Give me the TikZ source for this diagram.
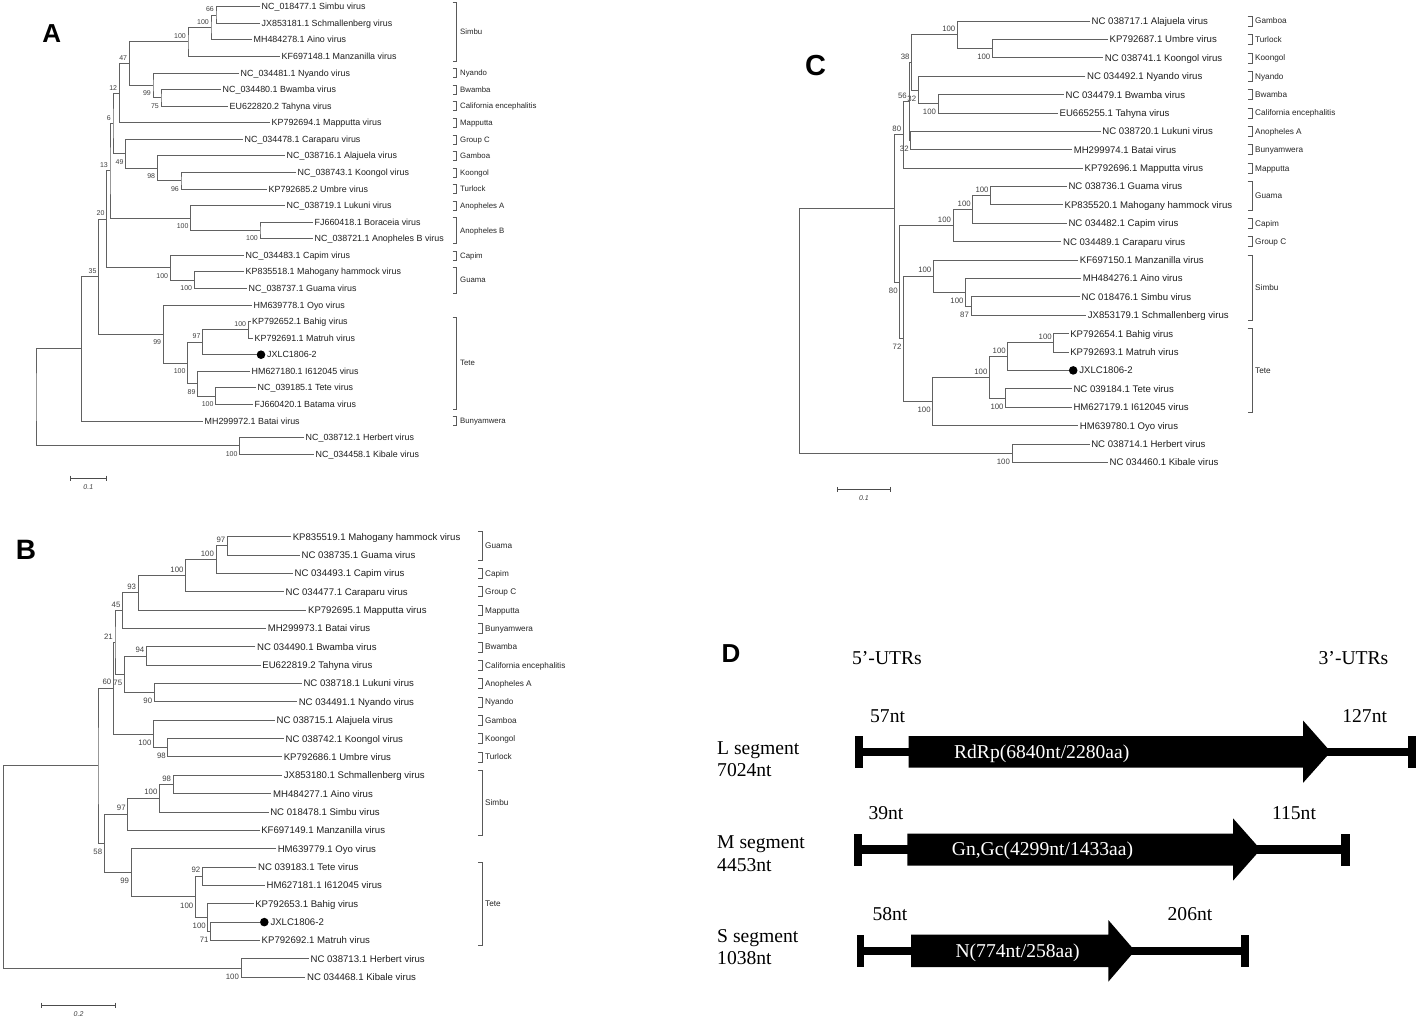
\documentclass[tikz,border=0pt]{standalone}
\usepackage{fontspec}
\setmainfont{Liberation Sans}
\newfontfamily\timesf{Liberation Serif}
\tikzset{
 brn/.style={draw=black!62, line width=0.85pt},
 lff/.style={font=\fontsize{8.9}{10}\selectfont, yshift=-3.15pt},
 lflab/.style={lff, text=black!88, anchor=base west, inner sep=1.5pt},
 bsf/.style={font=\fontsize{7}{8}\selectfont},
 bsa/.style={bsf, text=black!75, inner sep=0.5pt, anchor=south east, xshift=-1.5pt, yshift=2.5pt},
 bsb/.style={bsf, text=black!75, inner sep=0.5pt, anchor=north east, xshift=-1.5pt, yshift=-5pt},
 grf/.style={font=\fontsize{7.8}{9}\selectfont, yshift=-2.8pt},
 grplab/.style={grf, text=black!85, anchor=base west, inner sep=0pt},
 brk/.style={draw=black!65, line width=0.6pt},
 jxdot/.style={circle, fill=black, inner sep=0pt, minimum size=8.6pt},
 panel/.style={font=\bfseries\fontsize{26}{28}\selectfont, inner sep=0pt},
 sbar/.style={draw=black!70, line width=0.7pt},
 sblab/.style={font=\itshape\fontsize{7}{8}\selectfont, text=black!75, inner sep=0pt},
 dtext/.style={font=\timesf\fontsize{19.6}{22}\selectfont, inner sep=0pt},
 seg/.style={fill=black},
}
\newcommand\lf[4]{\coordinate (#1) at (#2,#3); \node[lflab] (#1t) at (#1) {#4};}
\newcommand\lfdot[4]{\node[jxdot] (#1d) at (#2,#3) {}; \coordinate (#1) at (#1d.west); \node[lflab] (#1t) at (#1d.east) {#4};}
\newcommand\inn[7]{\coordinate (#1) at (#2,#3); \draw[brn] (#4) -| (#1) |- (#5); \node[#6] (#1l) at (#1) {#7};}
\newcommand\inr[5]{\coordinate (#1) at (#2,#3); \draw[brn] (#4) -| (#1) |- (#5);}
\newcommand\grp[4]{\draw[brk] (\bxt,{#2-\bh}) -- (\bxv,{#2-\bh}) -- (\bxv,{#3+\bh}) -- (\bxt,{#3+\bh}); \node[grplab] (#1) at (\bxl,{(#2+#3)/2}) {#4};}
\newcommand\sbr[5]{\coordinate (#1a) at (#2,#4); \coordinate (#1b) at (#3,#4); \draw[sbar] (#1a) -- (#1b); \draw[sbar] ([yshift=2.5pt]#1a) -- ([yshift=-2.5pt]#1a); \draw[sbar] ([yshift=2.5pt]#1b) -- ([yshift=-2.5pt]#1b); \node[sblab] (#1l) at ({(#2+#3)/2},{#4+9}) {#5};}
\begin{document}
\begin{tikzpicture}[x=1pt,y=-1pt]
\fill[white] (0,0) rectangle (1418,1020);
\useasboundingbox (0,0) rectangle (1418,1020);

% ================= Tree A =================
\begin{scope}
\def\bxt{452.7}\def\bxv{456.7}\def\bxl{460}\def\bh{4.5}
\node[panel] (pA) at (51.7,34) {A};
\lf{a0}{260}{6.7}{NC\_018477.1 Simbu virus}
\lf{a1}{260}{23.3}{JX853181.1 Schmallenberg virus}
\lf{a2}{252}{39.8}{MH484278.1 Aino virus}
\lf{a3}{280}{56.4}{KF697148.1 Manzanilla virus}
\lf{a4}{239}{73.0}{NC\_034481.1 Nyando virus}
\lf{a5}{221}{89.6}{NC\_034480.1 Bwamba virus}
\lf{a6}{228}{106.1}{EU622820.2 Tahyna virus}
\lf{a7}{270}{122.7}{KP792694.1 Mapputta virus}
\lf{a8}{243}{139.3}{NC\_034478.1 Caraparu virus}
\lf{a9}{285}{155.8}{NC\_038716.1 Alajuela virus}
\lf{a10}{296}{172.4}{NC\_038743.1 Koongol virus}
\lf{a11}{267}{189.0}{KP792685.2 Umbre virus}
\lf{a12}{285}{205.5}{NC\_038719.1 Lukuni virus}
\lf{a13}{313}{222.1}{FJ660418.1 Boraceia virus}
\lf{a14}{313}{238.7}{NC\_038721.1 Anopheles B virus}
\lf{a15}{244}{255.3}{NC\_034483.1 Capim virus}
\lf{a16}{244}{271.8}{KP835518.1 Mahogany hammock virus}
\lf{a17}{247}{288.4}{NC\_038737.1 Guama virus}
\lf{a18}{252}{305.0}{HM639778.1 Oyo virus}
\lf{a19}{250.5}{321.5}{KP792652.1 Bahig virus}
\lf{a20}{253}{338.1}{KP792691.1 Matruh virus}
\lfdot{a21}{261}{354.7}{JXLC1806-2}
\lf{a22}{250}{371.2}{HM627180.1 I612045 virus}
\lf{a23}{256}{387.8}{NC\_039185.1 Tete virus}
\lf{a24}{253}{404.4}{FJ660420.1 Batama virus}
\lf{a25}{203}{421.0}{MH299972.1 Batai virus}
\lf{a26}{304}{437.5}{NC\_038712.1 Herbert virus}
\lf{a27}{314}{454.1}{NC\_034458.1 Kibale virus}
\inn{nA1}{216}{15.0}{a0}{a1}{bsa}{66}
\inn{nA2}{211}{27.4}{nA1}{a2}{bsa}{100}
\inn{nA3}{188}{41.9}{nA2}{a3}{bsa}{100}
\inn{nA4}{161}{97.85}{a5}{a6}{bsb}{75}
\inn{nA5}{153}{85.4}{a4}{nA4}{bsb}{99}
\inn{nA6}{129.3}{63.65}{nA3}{nA5}{bsa}{47}
\inn{nA7}{119.3}{93.2}{nA6}{a7}{bsa}{12}
\inn{nA8}{181}{180.7}{a10}{a11}{bsb}{96}
\inn{nA9}{157.3}{168.25}{a9}{nA8}{bsb}{98}
\inn{nA10}{125.7}{153.8}{a8}{nA9}{bsb}{49}
\inn{nA11}{113}{123.5}{nA7}{nA10}{bsa}{6}
\inn{nA12}{260}{230.4}{a13}{a14}{bsb}{100}
\inn{nA13}{190.7}{217.95}{a12}{nA12}{bsb}{100}
\inn{nA14}{110}{170.7}{nA11}{nA13}{bsa}{13}
\inn{nA15}{194.3}{280.1}{a16}{a17}{bsb}{100}
\inn{nA16}{170.3}{267.7}{a15}{nA15}{bsb}{100}
\inn{nA17}{106.7}{219.2}{nA14}{nA16}{bsa}{20}
\inn{nA18}{248.3}{329.8}{a19}{a20}{bsa}{100}
\inn{nA19}{202.7}{342.25}{nA18}{a21}{bsa}{97}
\inn{nA20}{215.7}{396.1}{a23}{a24}{bsb}{100}
\inn{nA21}{197.7}{383.65}{a22}{nA20}{bsb}{89}
\inn{nA22}{187.7}{362.95}{nA19}{nA21}{bsb}{100}
\inn{nA23}{163.3}{334.0}{a18}{nA22}{bsb}{99}
\inn{nA24}{98.7}{276.6}{nA17}{nA23}{bsa}{35}
\inr{nA25}{81.7}{348.8}{nA24}{a25}
\inn{nA26}{239.7}{445.8}{a26}{a27}{bsb}{100}
\inr{nA0}{36}{397.3}{nA25}{nA26}
\grp{gA1}{6.7}{56.4}{Simbu}
\grp{gA2}{73.0}{73.0}{Nyando}
\grp{gA3}{89.6}{89.6}{Bwamba}
\grp{gA4}{106.1}{106.1}{California encephalitis}
\grp{gA5}{122.7}{122.7}{Mapputta}
\grp{gA6}{139.3}{139.3}{Group C}
\grp{gA7}{155.8}{155.8}{Gamboa}
\grp{gA8}{172.4}{172.4}{Koongol}
\grp{gA9}{189.0}{189.0}{Turlock}
\grp{gA10}{205.5}{205.5}{Anopheles A}
\grp{gA11}{222.1}{238.7}{Anopheles B}
\grp{gA12}{255.3}{255.3}{Capim}
\grp{gA13}{271.8}{288.4}{Guama}
\grp{gA14}{321.5}{404.4}{Tete}
\grp{gA15}{421.0}{421.0}{Bunyamwera}
\sbr{sA}{70.7}{106}{478}{0.1}
\end{scope}

% ================= Tree B =================
\begin{scope}[lff/.style={font=\fontsize{9.6}{11}\selectfont, yshift=-3.4pt},
  bsf/.style={font=\fontsize{7.8}{9}\selectfont},
  grf/.style={font=\fontsize{8.2}{9}\selectfont, yshift=-2.9pt}]
\def\bxt{478}\def\bxv{482}\def\bxl{485}\def\bh{5}
\node[panel, font=\bfseries\fontsize{28}{30}\selectfont] (pB) at (26,550) {B};
\lf{b0}{291.1}{536.7}{KP835519.1 Mahogany hammock virus}
\lf{b1}{300}{555.0}{NC 038735.1 Guama virus}
\lf{b2}{292.9}{573.4}{NC 034493.1 Capim virus}
\lf{b3}{283.9}{591.7}{NC 034477.1 Caraparu virus}
\lf{b4}{306.4}{610.1}{KP792695.1 Mapputta virus}
\lf{b5}{266.1}{628.5}{MH299973.1 Batai virus}
\lf{b6}{255.4}{646.8}{NC 034490.1 Bwamba virus}
\lf{b7}{260.7}{665.2}{EU622819.2 Tahyna virus}
\lf{b8}{301.8}{683.5}{NC 038718.1 Lukuni virus}
\lf{b9}{297.1}{701.9}{NC 034491.1 Nyando virus}
\lf{b10}{275}{720.2}{NC 038715.1 Alajuela virus}
\lf{b11}{283.9}{738.6}{NC 038742.1 Koongol virus}
\lf{b12}{282.1}{756.9}{KP792686.1 Umbre virus}
\lf{b13}{282.1}{775.3}{JX853180.1 Schmallenberg virus}
\lf{b14}{271.4}{793.6}{MH484277.1 Aino virus}
\lf{b15}{268.6}{812.0}{NC 018478.1 Simbu virus}
\lf{b16}{259.6}{830.3}{KF697149.1 Manzanilla virus}
\lf{b17}{276.1}{848.7}{HM639779.1 Oyo virus}
\lf{b18}{256.4}{867.0}{NC 039183.1 Tete virus}
\lf{b19}{265}{885.4}{HM627181.1 I612045 virus}
\lf{b20}{253.6}{903.7}{KP792653.1 Bahig virus}
\lfdot{b21}{264.3}{922.1}{JXLC1806-2}
\lf{b22}{260}{940.4}{KP792692.1 Matruh virus}
\lf{b23}{308.9}{958.8}{NC 038713.1 Herbert virus}
\lf{b24}{305.4}{977.1}{NC 034468.1 Kibale virus}
\inn{nB1}{227.5}{545.85}{b0}{b1}{bsa}{97}
\inn{nB2}{216.1}{559.6}{nB1}{b2}{bsa}{100}
\inn{nB3}{185.7}{575.65}{nB2}{b3}{bsa}{100}
\inn{nB4}{138.2}{592.9}{nB3}{b4}{bsa}{93}
\inn{nB5}{122.6}{610.7}{nB4}{b5}{bsa}{45}
\inn{nB6}{146.4}{656.0}{b6}{b7}{bsa}{94}
\inn{nB7}{154.3}{692.7}{b8}{b9}{bsb}{90}
\inn{nB8}{124.3}{674.35}{nB6}{nB7}{bsb}{75}
\inn{nB9}{115}{642.5}{nB5}{nB8}{bsa}{21}
\inn{nB10}{167.9}{747.75}{b11}{b12}{bsb}{98}
\inn{nB11}{153.6}{733.95}{b10}{nB10}{bsb}{100}
\inn{nB12}{113.4}{688.2}{nB9}{nB11}{bsa}{60}
\inn{nB13}{173.2}{784.45}{b13}{b14}{bsa}{98}
\inn{nB14}{159.6}{798.2}{nB13}{b15}{bsa}{100}
\inn{nB15}{127.8}{814.25}{nB14}{b16}{bsa}{97}
\inn{nB16}{202.5}{876.2}{b18}{b19}{bsa}{92}
\inn{nB17}{210.7}{931.25}{b21}{b22}{bsb}{71}
\inn{nB18}{207.9}{917.5}{b20}{nB17}{bsb}{100}
\inn{nB19}{195.4}{896.85}{nB16}{nB18}{bsb}{100}
\inn{nB20}{131.2}{872.8}{b17}{nB19}{bsb}{99}
\inn{nB21}{104.3}{843.5}{nB15}{nB20}{bsb}{58}
\inr{nB22}{98}{765.85}{nB12}{nB21}
\inn{nB23}{241.1}{967.95}{b23}{b24}{bsb}{100}
\inr{nB0}{3.6}{866.9}{nB22}{nB23}
\grp{gB1}{536.7}{555.0}{Guama}
\grp{gB2}{573.4}{573.4}{Capim}
\grp{gB3}{591.7}{591.7}{Group C}
\grp{gB4}{610.1}{610.1}{Mapputta}
\grp{gB5}{628.5}{628.5}{Bunyamwera}
\grp{gB6}{646.8}{646.8}{Bwamba}
\grp{gB7}{665.2}{665.2}{California encephalitis}
\grp{gB8}{683.5}{683.5}{Anopheles A}
\grp{gB9}{701.9}{701.9}{Nyando}
\grp{gB10}{720.2}{720.2}{Gamboa}
\grp{gB11}{738.6}{738.6}{Koongol}
\grp{gB12}{756.9}{756.9}{Turlock}
\grp{gB13}{775.3}{830.3}{Simbu}
\grp{gB14}{867.0}{940.4}{Tete}
\sbr{sB}{41.8}{115.4}{1005}{0.2}
\end{scope}

% ================= Tree C =================
\begin{scope}[lff/.style={font=\fontsize{9.6}{11}\selectfont, yshift=-3.4pt},
  bsf/.style={font=\fontsize{7.8}{9}\selectfont},
  grf/.style={font=\fontsize{8.2}{9}\selectfont, yshift=-2.9pt}]
\def\bxt{1247.5}\def\bxv{1252}\def\bxl{1255}\def\bh{5}
\node[panel, font=\bfseries\fontsize{29}{31}\selectfont] (pC) at (815.5,66) {C};
\lf{c0}{1090}{21.0}{NC 038717.1 Alajuela virus}
\lf{c1}{1107.9}{39.4}{KP792687.1 Umbre virus}
\lf{c2}{1103.2}{57.8}{NC 038741.1 Koongol virus}
\lf{c3}{1085.4}{76.2}{NC 034492.1 Nyando virus}
\lf{c4}{1063.9}{94.6}{NC 034479.1 Bwamba virus}
\lf{c5}{1057.9}{113.0}{EU665255.1 Tahyna virus}
\lf{c6}{1100.7}{131.3}{NC 038720.1 Lukuni virus}
\lf{c7}{1072.1}{149.7}{MH299974.1 Batai virus}
\lf{c8}{1082.9}{168.1}{KP792696.1 Mapputta virus}
\lf{c9}{1066.8}{186.5}{NC 038736.1 Guama virus}
\lf{c10}{1062.9}{204.9}{KP835520.1 Mahogany hammock virus}
\lf{c11}{1066.8}{223.3}{NC 034482.1 Capim virus}
\lf{c12}{1061.4}{241.7}{NC 034489.1 Caraparu virus}
\lf{c13}{1078.2}{260.1}{KF697150.1 Manzanilla virus}
\lf{c14}{1081.1}{278.5}{MH484276.1 Aino virus}
\lf{c15}{1080}{296.9}{NC 018476.1 Simbu virus}
\lf{c16}{1086.1}{315.2}{JX853179.1 Schmallenberg virus}
\lf{c17}{1068.6}{333.6}{KP792654.1 Bahig virus}
\lf{c18}{1068.6}{352.0}{KP792693.1 Matruh virus}
\lfdot{c19}{1073.2}{370.4}{JXLC1806-2}
\lf{c20}{1071.8}{388.8}{NC 039184.1 Tete virus}
\lf{c21}{1071.8}{407.2}{HM627179.1 I612045 virus}
\lf{c22}{1078.2}{425.6}{HM639780.1 Oyo virus}
\lf{c23}{1089.6}{444.0}{NC 038714.1 Herbert virus}
\lf{c24}{1107.9}{462.4}{NC 034460.1 Kibale virus}
\inn{nC1}{992.5}{48.6}{c1}{c2}{bsb}{100}
\inn{nC2}{957.5}{34.8}{c0}{nC1}{bsa}{100}
\inn{nC3}{938.2}{103.8}{c4}{c5}{bsb}{100}
\inn{nC4}{918.3}{90.0}{c3}{nC3}{bsb}{32}
\inn{nC5}{911.7}{62.4}{nC2}{nC4}{bsa}{38}
\inn{nC6}{910.8}{140.5}{c6}{c7}{bsb}{32}
\inn{nC7}{909}{101.45}{nC5}{nC6}{bsa}{56}
\inn{nC8}{903.3}{134.8}{nC7}{c8}{bsa}{80}
\inn{nC9}{990.7}{195.7}{c9}{c10}{bsa}{100}
\inn{nC10}{972.9}{209.5}{nC9}{c11}{bsa}{100}
\inn{nC11}{953.2}{225.6}{nC10}{c12}{bsa}{100}
\inn{nC12}{971.1}{306.05}{c15}{c16}{bsb}{87}
\inn{nC13}{965.7}{292.3}{c14}{nC12}{bsb}{100}
\inn{nC14}{933.5}{276.2}{c13}{nC13}{bsa}{100}
\inn{nC15}{1053.9}{342.8}{c17}{c18}{bsa}{100}
\inn{nC16}{1007.9}{356.6}{nC15}{c19}{bsa}{100}
\inn{nC17}{1005.7}{398.0}{c20}{c21}{bsb}{100}
\inn{nC18}{989.6}{377.3}{nC16}{nC17}{bsa}{100}
\inn{nC19}{932.8}{401.45}{nC18}{c22}{bsb}{100}
\inn{nC20}{903.6}{338.8}{nC14}{nC19}{bsb}{72}
\inn{nC21}{899.8}{282.2}{nC11}{nC20}{bsb}{80}
\inr{nC22}{894}{208.5}{nC8}{nC21}
\inn{nC23}{1012.1}{453.2}{c23}{c24}{bsb}{100}
\inr{nC0}{799.3}{330.85}{nC22}{nC23}
\grp{gC1}{21.0}{21.0}{Gamboa}
\grp{gC2}{39.4}{39.4}{Turlock}
\grp{gC3}{57.8}{57.8}{Koongol}
\grp{gC4}{76.2}{76.2}{Nyando}
\grp{gC5}{94.6}{94.6}{Bwamba}
\grp{gC6}{113.0}{113.0}{California encephalitis}
\grp{gC7}{131.3}{131.3}{Anopheles A}
\grp{gC8}{149.7}{149.7}{Bunyamwera}
\grp{gC9}{168.1}{168.1}{Mapputta}
\grp{gC10}{186.5}{204.9}{Guama}
\grp{gC11}{223.3}{223.3}{Capim}
\grp{gC12}{241.7}{241.7}{Group C}
\grp{gC13}{260.1}{315.2}{Simbu}
\grp{gC14}{333.6}{407.2}{Tete}
\sbr{sC}{837.1}{890.7}{489.3}{0.1}
\end{scope}

% ================= Panel D =================
\node[panel] (pD) at (731,654) {D};
\node[dtext, anchor=base] (u5) at (887,664.5) {5’-UTRs};
\node[dtext, anchor=base] (u3) at (1353.5,664.5) {3’-UTRs};
% L segment
\node[dtext, anchor=base west] (Ln) at (717,754) {L segment};
\node[dtext, anchor=base west] (Ll) at (717,776.5) {7024nt};
\node[dtext, anchor=base] (L5) at (887.6,722.3) {57nt};
\node[dtext, anchor=base] (L3) at (1364.7,722.3) {127nt};
\fill[seg] (862.8,747.5) rectangle (1407.8,756);
\fill[seg] (854.6,736) rectangle (862.8,767.7);
\fill[seg] (1407.8,736) rectangle (1415.6,767.7);
\fill[seg] (908.7,736) -- (1303.2,736) -- (1303.2,720.7) -- (1330.7,751.8) -- (1303.2,782.7) -- (1303.2,767.7) -- (908.7,767.7) -- cycle;
\node[dtext, anchor=base, text=white] (Lt) at (1041.7,758) {RdRp(6840nt/2280aa)};
% M segment
\node[dtext, anchor=base west] (Mn) at (717,848.2) {M segment};
\node[dtext, anchor=base west] (Ml) at (717,871.5) {4453nt};
\node[dtext, anchor=base] (M5) at (886,819.8) {39nt};
\node[dtext, anchor=base] (M3) at (1294,819.8) {115nt};
\fill[seg] (861.5,845.3) rectangle (1341.3,853.8);
\fill[seg] (853.7,833.5) rectangle (861.5,866);
\fill[seg] (1341.3,833.5) rectangle (1350,866);
\fill[seg] (907.3,833.5) -- (1233,833.5) -- (1233,818.3) -- (1260.6,849.5) -- (1233,880.7) -- (1233,865.5) -- (907.3,865.5) -- cycle;
\node[dtext, anchor=base, text=white] (Mt) at (1042.5,855.5) {Gn,Gc(4299nt/1433aa)};
% S segment
\node[dtext, anchor=base west] (Sn) at (717,942.5) {S segment};
\node[dtext, anchor=base west] (Sl) at (717,964.9) {1038nt};
\node[dtext, anchor=base] (S5) at (890,920.5) {58nt};
\node[dtext, anchor=base] (S3) at (1190,920.5) {206nt};
\fill[seg] (864.2,946.6) rectangle (1241.3,955.1);
\fill[seg] (856.9,934.5) rectangle (864.2,967);
\fill[seg] (1241.3,934.5) rectangle (1249,967);
\fill[seg] (911,934.5) -- (1108.3,934.5) -- (1108.3,920) -- (1134.9,950.8) -- (1108.3,981.7) -- (1108.3,967) -- (911,967) -- cycle;
\node[dtext, anchor=base, text=white] (St) at (1017.6,957) {N(774nt/258aa)};
\end{tikzpicture}
\end{document}
